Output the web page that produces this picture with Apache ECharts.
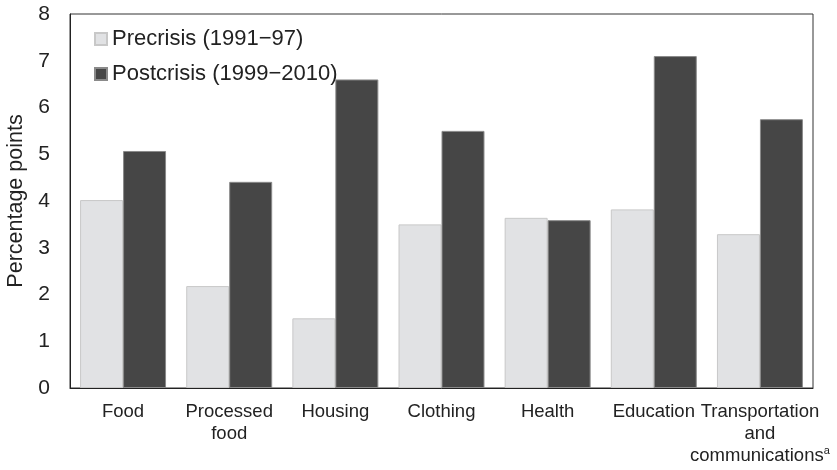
<!DOCTYPE html>
<html>
<head>
<meta charset="utf-8">
<script src="https://cdn.jsdelivr.net/npm/echarts@6/dist/echarts.min.js"></script>
<style>
  html, body { margin: 0; padding: 0; background: #fff; }
  #main { width: 837px; height: 470px; }
</style>
</head>
<body>
<div id="main"></div>
<script>
var categories = ['Food', 'Processed\nfood', 'Housing', 'Clothing', 'Health', 'Education', 'Transportation\nand\ncommunications{sup|a}'];
var precrisis = [4.02, 2.18, 1.49, 3.50, 3.64, 3.82, 3.29];
var postcrisis = [5.07, 4.41, 6.60, 5.50, 3.59, 7.10, 5.75];
var yTicks = [0, 8, 1];

var chart = echarts.init(document.getElementById('main'));
var font = 'Liberation Sans, Arial, sans-serif';

var option = {
  animation: false,
  textStyle: { fontFamily: font },
  grid: {
    left: 70, right: 24, top: 14, bottom: 82,
    outerBoundsMode: 'none', containLabel: false,
    show: true, borderColor: '#333', borderWidth: 1, backgroundColor: 'transparent'
  },
  legend: {
    orient: 'vertical',
    left: 89, top: 23,
    itemWidth: 12, itemHeight: 12,
    itemGap: 13,
    icon: 'rect',
    textStyle: { fontSize: 22, color: '#222', fontFamily: font },
    data: ['Precrisis (1991\u221297)', 'Postcrisis (1999\u22122010)']
  },
  xAxis: {
    type: 'category',
    data: categories,
    axisLine: { lineStyle: { color: '#222', width: 1 } },
    axisTick: { show: false },
    axisLabel: {
      interval: 0, margin: 13,
      fontSize: 18.5, lineHeight: 22, color: '#222', fontFamily: font,
      rich: { sup: { fontSize: 11, verticalAlign: 'top', lineHeight: 22, padding: [0, 0, 8, 0], color: '#222' } }
    }
  },
  yAxis: {
    type: 'value',
    min: yTicks[0], max: yTicks[1], interval: yTicks[2],
    name: 'Percentage points',
    nameLocation: 'middle',
    nameGap: 42,
    nameTextStyle: { fontSize: 21.5, color: '#222', fontFamily: font },
    axisLine: { show: true, lineStyle: { color: '#222', width: 1 } },
    axisTick: { show: false },
    splitLine: { show: false },
    axisLabel: { fontSize: 21, margin: 20, color: '#222', fontFamily: font }
  },
  series: [
    {
      name: 'Precrisis (1991\u221297)',
      type: 'bar',
      data: precrisis,
      barGap: '0%',
      barCategoryGap: '19%',
      itemStyle: { color: '#e1e2e4', borderColor: '#c8c8c8', borderWidth: 1 }
    },
    {
      name: 'Postcrisis (1999\u22122010)',
      type: 'bar',
      data: postcrisis,
      itemStyle: { color: '#464646', borderColor: '#8a8a8a', borderWidth: 1 }
    }
  ]
};
chart.setOption(option);
</script>
</body>
</html>
